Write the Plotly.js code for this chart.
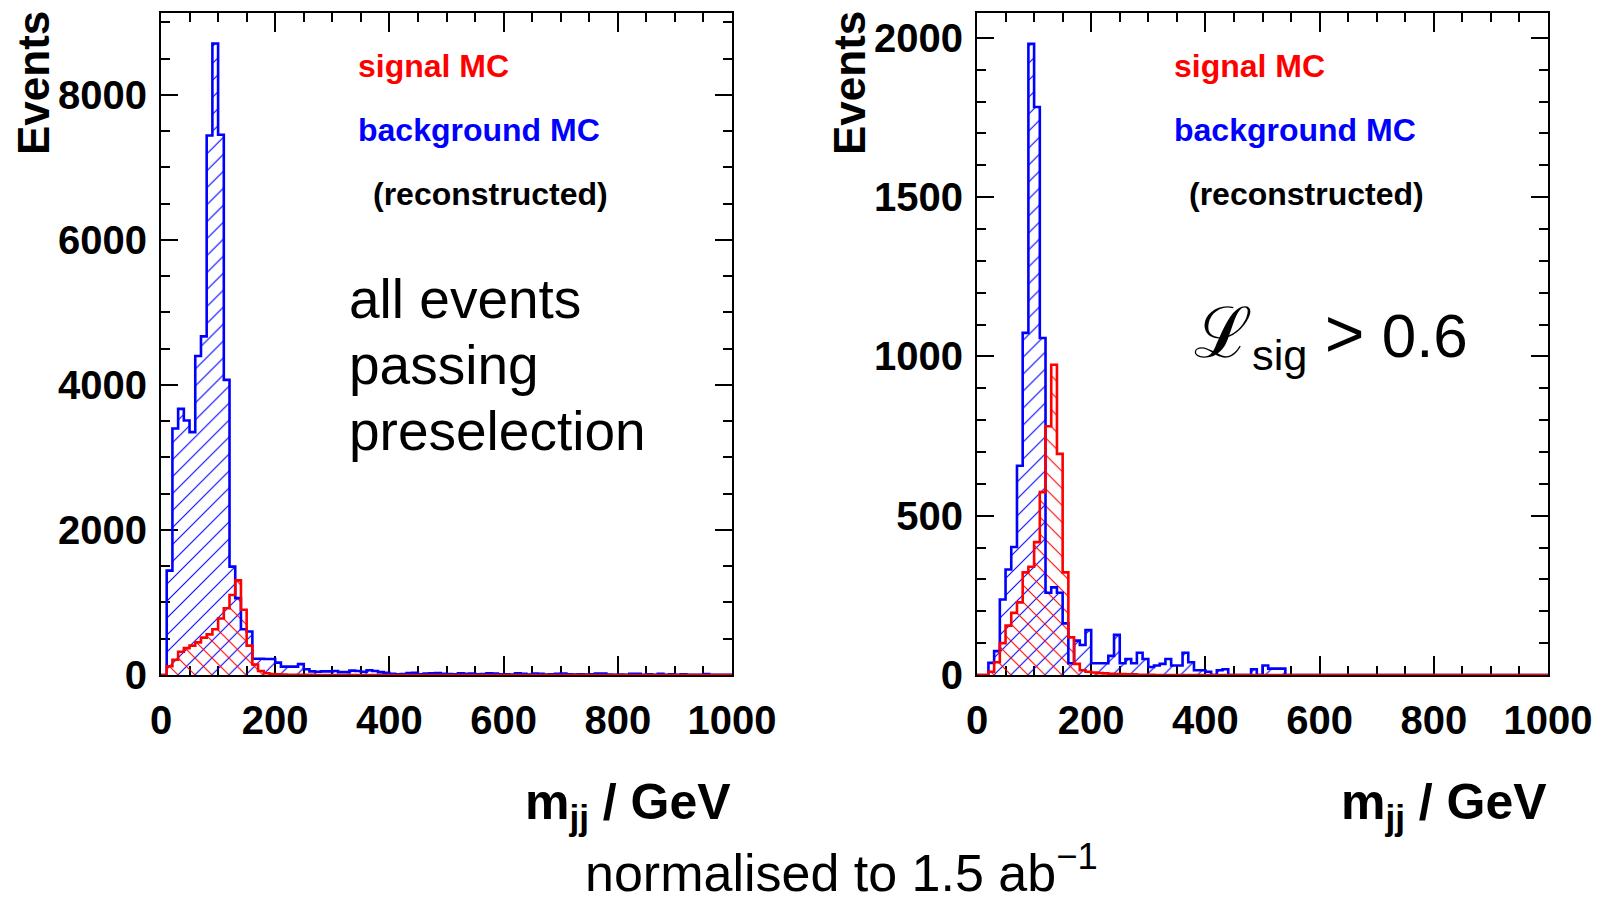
<!DOCTYPE html>
<html>
<head>
<meta charset="utf-8">
<script src="https://cdn.plot.ly/plotly-3.0.1.min.js"></script>
<style>html,body{margin:0;padding:0;background:#fff;}#plot{width:1599px;height:903px;}</style>
</head>
<body>
<div id="plot"></div>
<script>
// ---- data: 10 GeV bins from 0 to 1000 GeV ----
const BIN_WIDTH = 10;
const X_MIN = 0, X_MAX = 1000;

// Left panel: all events passing preselection
const leftBackground = [
  0, 1440, 3400, 3670, 3510, 3350, 4400, 4670, 7440, 8710,
  7450, 4070, 1495, 1060, 630, 600, 225, 225, 220, 220,
  170, 115, 115, 115, 150, 80, 50, 45, 50, 50,
  55, 40, 40, 60, 55, 45, 65, 55, 40, 30,
  15, 10, 12, 28, 30, 10, 20, 25, 28, 15,
  12, 10, 22, 15, 20, 8, 12, 22, 20, 8,
  10, 5, 22, 15, 5, 20, 18, 5, 8, 15,
  20, 8, 5, 10, 5, 8, 20, 20, 5, 3,
  5, 3, 15, 15, 3, 8, 3, 15, 3, 8,
  3, 8, 3, 3, 3, 12, 3, 3, 3, 3
];
const leftSignal = [
  0, 120, 210, 320, 370, 405, 450, 515, 560, 630,
  780, 920, 1104, 1305, 900, 405, 145, 55, 25, 12,
  8, 5, 4, 3, 3, 2, 2, 1, 1, 1,
  1, 1, 0, 0, 0, 0, 0, 0, 0, 0,
  0, 0, 0, 0, 0, 0, 0, 0, 0, 0,
  0, 0, 0, 0, 0, 0, 0, 0, 0, 0,
  0, 0, 0, 0, 0, 0, 0, 0, 0, 0,
  0, 0, 0, 0, 0, 0, 0, 0, 0, 0,
  0, 0, 0, 0, 0, 0, 0, 0, 0, 0,
  0, 0, 0, 0, 0, 0, 0, 0, 0, 0
];

// Right panel: L_sig > 0.6
const rightBackground = [
  0, 0, 38, 75, 237, 331, 402, 657, 1074, 1981,
  1783, 1058, 258, 275, 258, 162, 37, 108, 94, 141,
  37, 37, 37, 60, 126, 37, 50, 37, 70, 50,
  25, 30, 35, 50, 30, 30, 70, 40, 15, 15,
  10, 0, 15, 18, 0, 0, 0, 0, 18, 0,
  30, 20, 20, 20, 0, 0, 0, 0, 0, 0,
  0, 0, 0, 0, 0, 0, 0, 0, 0, 0,
  0, 0, 0, 0, 0, 0, 0, 0, 0, 0,
  0, 0, 0, 0, 0, 0, 0, 0, 0, 0,
  0, 0, 0, 0, 0, 0, 0, 0, 0, 0
];
const rightSignal = [
  0, 0, 10, 40, 100, 155, 195, 228, 322, 340,
  417, 574, 781, 974, 694, 322, 118, 35, 15, 10,
  8, 6, 5, 4, 3, 3, 2, 2, 1, 1,
  1, 0, 0, 0, 0, 0, 0, 0, 0, 0,
  0, 0, 0, 0, 0, 0, 0, 0, 0, 0,
  0, 0, 0, 0, 0, 0, 0, 0, 0, 0,
  0, 0, 0, 0, 0, 0, 0, 0, 0, 0,
  0, 0, 0, 0, 0, 0, 0, 0, 0, 0,
  0, 0, 0, 0, 0, 0, 0, 0, 0, 0,
  0, 0, 0, 0, 0, 0, 0, 0, 0, 0
];

const xTickVals = [0, 200, 400, 600, 800, 1000];
const leftYTicks = [0, 2000, 4000, 6000, 8000];
const rightYTicks = [0, 500, 1000, 1500, 2000];

const legendSignal = 'signal MC';
const legendBackground = 'background MC';
const legendReco = '(reconstructed)';
const xTitle = 'm<sub>jj</sub> / GeV';
const yTitle = 'Events';
const leftNote = ['all events', 'passing', 'preselection'];
const rightNote = '<span style="font-size:70px">ℒ</span><sub>sig</sub> <span style="font-size:68px">&gt;</span> 0.6';
const footer = 'normalised to 1.5 ab<sup>−1</sup>';

// ---- helpers ----
const W = 1599, H = 903;
const px = v => v / W;
const py = v => 1 - v / H;
const FONT = 'Liberation Sans, Arial, Helvetica, sans-serif';

function centers(vals) { return vals.map((_, i) => X_MIN + (i + 0.5) * BIN_WIDTH); }
function edges(vals) { return vals.map((_, i) => X_MIN + i * BIN_WIDTH).concat([X_MAX]); }

function hatch(vals, color, shape, xa, ya) {
  return {
    type: 'bar', x: centers(vals), y: vals, width: BIN_WIDTH,
    xaxis: xa, yaxis: ya, hoverinfo: 'skip', showlegend: false,
    marker: {
      color: color, line: {width: 0},
      pattern: {shape: shape, fgcolor: color, bgcolor: 'rgba(0,0,0,0)', size: 12, solidity: 0.09, fillmode: 'replace'}
    }
  };
}
function outline(vals, color, xa, ya) {
  return {
    type: 'scatter', mode: 'lines', x: edges(vals), y: vals.concat([vals[vals.length - 1]]),
    xaxis: xa, yaxis: ya, hoverinfo: 'skip', showlegend: false, cliponaxis: false,
    line: {color: color, width: 2.6, shape: 'hv'}
  };
}

const data = [
  hatch(leftBackground, 'blue', '/', 'x', 'y'),
  hatch(leftSignal, 'red', '\\', 'x', 'y'),
  outline(leftBackground, 'blue', 'x', 'y'),
  outline(leftSignal, 'red', 'x', 'y'),
  hatch(rightBackground, 'blue', '/', 'x2', 'y2'),
  hatch(rightSignal, 'red', '\\', 'x2', 'y2'),
  outline(rightBackground, 'blue', 'x2', 'y2'),
  outline(rightSignal, 'red', 'x2', 'y2')
];

const tickFont = {family: FONT, size: 40, color: 'black', weight: 'bold'};
function xAxis(domain, anchor) {
  return {
    domain: domain, anchor: anchor, range: [X_MIN, X_MAX], tickvals: xTickVals,
    ticks: 'inside', ticklen: 19, tickwidth: 2, tickcolor: 'black',
    minor: {dtick: 50, tick0: 0, ticks: 'inside', ticklen: 9, tickwidth: 2, tickcolor: 'black', showgrid: false},
    showline: true, linewidth: 2, linecolor: 'black', mirror: 'ticks',
    showgrid: false, zeroline: false, tickfont: tickFont, ticklabelstandoff: 9,
    layer: 'below traces', fixedrange: true
  };
}
function yAxis(domain, anchor, range, tickvals, minorStep) {
  return {
    domain: domain, anchor: anchor, range: range, tickvals: tickvals,
    ticks: 'inside', ticklen: 17, tickwidth: 2, tickcolor: 'black',
    minor: {dtick: minorStep, tick0: 0, ticks: 'inside', ticklen: 9, tickwidth: 2, tickcolor: 'black', showgrid: false},
    showline: true, linewidth: 2, linecolor: 'black', mirror: 'ticks',
    showgrid: false, zeroline: false, tickfont: tickFont, ticklabelstandoff: 4,
    layer: 'below traces', fixedrange: true
  };
}

const yDom = [py(675), py(13)];
function ann(text, x, y, opts) {
  return Object.assign({text: text, x: x, y: y, xref: 'paper', yref: 'paper', showarrow: false,
    xanchor: 'left', yanchor: 'middle', font: {family: FONT, size: 32, color: 'black'}}, opts || {});
}
const boldFont = (size, color) => ({family: FONT, size: size, color: color || 'black', weight: 'bold'});
const regFont = (size) => ({family: FONT, size: size, color: 'black'});

const annotations = [
  ann(yTitle, px(34), py(9), {xanchor: 'center', yanchor: 'top', textangle: -90, font: boldFont(44)}),
  ann(yTitle, px(850), py(9), {xanchor: 'center', yanchor: 'top', textangle: -90, font: boldFont(44)}),
  ann(xTitle, px(733), py(805), {xanchor: 'right', font: boldFont(50)}),
  ann(xTitle, px(1549), py(805), {xanchor: 'right', font: boldFont(50)}),
  ann(legendSignal, px(356), py(66), {font: boldFont(32, 'red')}),
  ann(legendBackground, px(356), py(130), {font: boldFont(32, 'blue')}),
  ann(legendReco, px(371), py(194), {font: boldFont(32)}),
  ann(legendSignal, px(1172), py(66), {font: boldFont(32, 'red')}),
  ann(legendBackground, px(1172), py(130), {font: boldFont(32, 'blue')}),
  ann(legendReco, px(1187), py(194), {font: boldFont(32)}),
  ann(leftNote[0], px(347), py(299), {font: regFont(55)}),
  ann(leftNote[1], px(347), py(365), {font: regFont(55)}),
  ann(leftNote[2], px(347), py(431), {font: regFont(55)}),
  ann(rightNote, px(1192), py(336), {font: regFont(62)}),
  ann(footer, px(841), py(903), {xanchor: 'center', yanchor: 'bottom', borderpad: 0, font: regFont(52)})
];

const layout = {
  width: W, height: H, margin: {l: 0, r: 0, t: 0, b: 0, pad: 0},
  paper_bgcolor: 'white', plot_bgcolor: 'white', showlegend: false,
  barmode: 'overlay', bargap: 0,
  xaxis: xAxis([px(161), px(732)], 'y'),
  yaxis: yAxis(yDom, 'x', [0, 9130], leftYTicks, 500),
  xaxis2: xAxis([px(977), px(1548)], 'y2'),
  yaxis2: yAxis(yDom, 'x2', [0, 2078], rightYTicks, 100),
  annotations: annotations
};

Plotly.newPlot('plot', data, layout, {staticPlot: true, displayModeBar: false});
</script>
</body>
</html>
